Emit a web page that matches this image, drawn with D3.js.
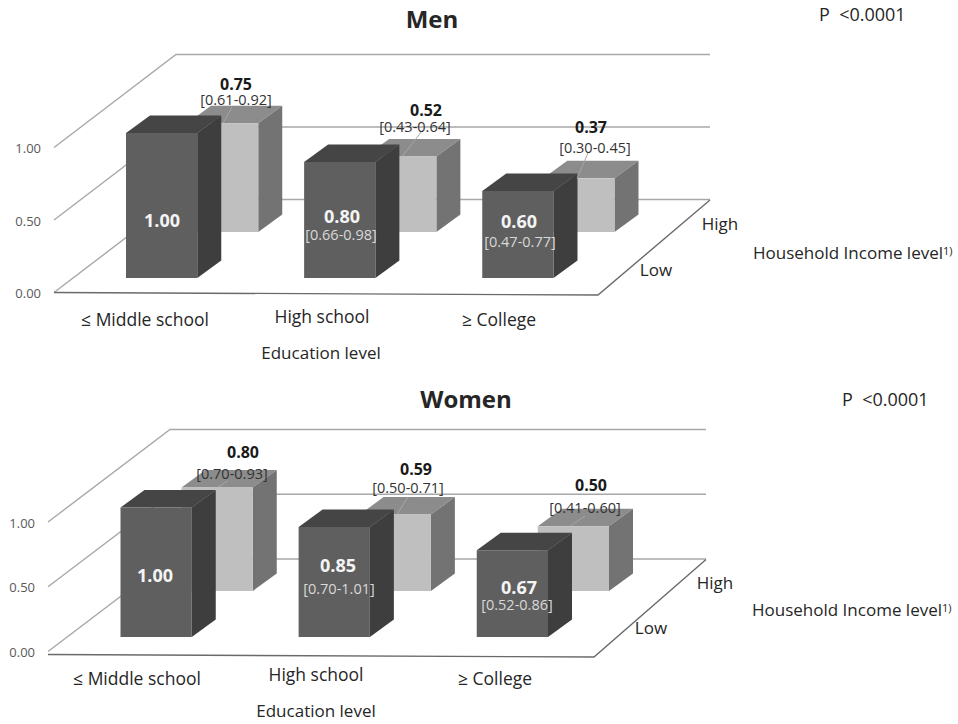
<!DOCTYPE html>
<html>
<head>
<meta charset="utf-8">
<script src="https://cdnjs.cloudflare.com/ajax/libs/d3/7.8.5/d3.min.js"></script>
<style>
  html, body { margin: 0; padding: 0; background: #fff; }
  svg { display: block; }
  text { font-family: "Open Sans", "Noto Sans", sans-serif; }
</style>
</head>
<body>
<svg id="chart" width="958" height="724"></svg>
<script>
// Adjusted odds ratios by education and household income
const educationLevels = ["≤ Middle school", "High school", "≥ College"];
const incomeLevels = ["Low", "High"];
const tickValues = [0, 0.5, 1];

const menLow = [1.00, 0.80, 0.60];
const menHigh = [0.75, 0.52, 0.37];
const menLowCI = [null, "[0.66-0.98]", "[0.47-0.77]"];
const menHighCI = ["[0.61-0.92]", "[0.43-0.64]", "[0.30-0.45]"];

const womenLow = [1.00, 0.85, 0.67];
const womenHigh = [0.80, 0.59, 0.50];
const womenLowCI = [null, "[0.70-1.01]", "[0.52-0.86]"];
const womenHighCI = ["[0.70-0.93]", "[0.50-0.71]", "[0.41-0.60]"];

const colors = {
  Low: { front: "#5f5f5f", top: "#454545", side: "#3e3e3e" },
  High: { front: "#bfbfbf", top: "#8c8c8c", side: "#737373" }
};

// Placement of each panel and its hand-set annotations
const panels = [
  {
    title: "Men", titleX: 432, titleY: 20, pText: "P  <0.0001", pX: 819, pY: 15,
    low: menLow, high: menHigh, lowCI: menLowCI, highCI: menHighCI,
    floorLeft: 54, floorRight: 598, floorFrontY: 293, floorFrontYRight: 295,
    wallBottom: 292.5, backY: 199.5, unit: 145, barStart: 126, barBase: 278,
    tickX: 41,
    catLabels: [[145, 320], [322, 317], [499, 320]], eduLabel: [321, 353],
    highLabel: [720, 224], lowLabel: [656, 270], incomeLabel: [753, 253],
    lowValuePos: [[162, 221], [342, 217], [519, 222]],
    lowCIPos: [null, [341, 235], [520, 242]],
    highValuePos: [[236, 84], [426, 110], [591, 127]],
    highCIPos: [[236, 100], [415, 127], [595, 148]],
    leaders: [[232, 107, 223], [422, 131, 402], [588, 153, 577]]
  },
  {
    title: "Women", titleX: 466, titleY: 400, pText: "P  <0.0001", pX: 842, pY: 400,
    low: womenLow, high: womenHigh, lowCI: womenLowCI, highCI: womenHighCI,
    floorLeft: 48, floorRight: 594, floorFrontY: 655, floorFrontYRight: 657,
    wallBottom: 651.5, backY: 559, unit: 129.5, barStart: 120.5, barBase: 637,
    tickX: 35,
    catLabels: [[137, 679], [316, 675], [495, 679]], eduLabel: [316, 711],
    highLabel: [715, 583], lowLabel: [651, 628], incomeLabel: [752, 610],
    lowValuePos: [[155, 576], [338, 566], [519, 588]],
    lowCIPos: [null, [339, 589], [517, 605]],
    highValuePos: [[243, 452], [416, 469], [591, 485]],
    highCIPos: [[232, 474], [408, 488], [585, 508]],
    leaders: [[228, 481, 217], [408, 497, 397], [585, 516, 570]]
  }
];

const svg = d3.select("#chart");
const textColor = "#262626";
const gridColor = "#a8a8a8";

// Depth axis: how far the floor recedes up and to the right
const wallDepthX = 122, wallDepthY = 93;
const rowShiftX = d3.scalePoint().domain(incomeLevels).range([0, 61]);
const rowShiftY = d3.scalePoint().domain(incomeLevels).range([0, -46]);
const barDepthX = 24, barDepthY = 17.5;

function label(g, str, x, y, size, weight, fill, anchor) {
  return g.append("text")
    .attr("x", x).attr("y", y)
    .attr("dy", "0.35em")
    .attr("text-anchor", anchor || "middle")
    .attr("font-size", size)
    .attr("font-weight", weight || 400)
    .attr("fill", fill || textColor)
    .text(str);
}

panels.forEach(p => {
  const g = svg.append("g");

  const x = d3.scaleBand()
    .domain(educationLevels)
    .range([p.barStart, p.barStart + 427.5])
    .paddingInner(0.6);

  // Height above a bar's own base
  const h = d3.scaleLinear().domain([0, 1]).range([0, p.unit]);
  // Height on the front edge of the left wall, which the axis reads from
  const wallY = d3.scaleLinear().domain([0, 1]).range([p.wallBottom, p.wallBottom - p.unit]);

  // Gridlines run along the left wall, then across the back wall
  const backRight = p.floorRight + 112;
  tickValues.forEach(t => {
    const offset = h(t);
    const yFront = wallY(t);
    const yBack = p.backY - offset;
    g.append("polyline")
      .attr("points", [[p.floorLeft, yFront], [p.floorLeft + wallDepthX, yBack], [backRight, yBack]].join(" "))
      .attr("fill", "none").attr("stroke", gridColor).attr("stroke-width", 1.4);
  });

  // Floor outline: front and right edges
  g.append("polyline")
    .attr("points", [[p.floorLeft, p.floorFrontY - 0.5], [p.floorRight, p.floorFrontYRight], [backRight, p.backY + 0.5]].join(" "))
    .attr("fill", "none").attr("stroke", "#6a6a6a").attr("stroke-width", 1.4);

  // Value axis, labels only
  const axis = g.append("g")
    .attr("transform", `translate(${p.tickX},1)`)
    .call(d3.axisLeft(wallY).tickValues(tickValues).tickFormat(d3.format(".2f")).tickSize(0).tickPadding(0));
  axis.select(".domain").remove();
  axis.selectAll("text").attr("font-size", 13).attr("fill", "#595959")
    .style("font-family", '"Open Sans", sans-serif');

  // Back row first so the front row overlaps it
  const rows = [["High", p.high], ["Low", p.low]];
  rows.forEach(([level, values]) => {
    const c = colors[level];
    const w = x.bandwidth();
    const bars = g.append("g").selectAll("g")
      .data(educationLevels.map((e, i) => ({ e, v: values[i] })))
      .join("g");
    const base = p.barBase + rowShiftY(level);
    const left = d => x(d.e) + rowShiftX(level);
    const top = d => base - h(d.v);

    bars.append("polygon").attr("fill", c.top).attr("points", d => [
      [left(d), top(d)], [left(d) + barDepthX, top(d) - barDepthY],
      [left(d) + w + barDepthX, top(d) - barDepthY], [left(d) + w, top(d)]
    ].join(" "));
    bars.append("polygon").attr("fill", c.side).attr("points", d => [
      [left(d) + w, top(d)], [left(d) + w + barDepthX, top(d) - barDepthY],
      [left(d) + w + barDepthX, base - barDepthY], [left(d) + w, base]
    ].join(" "));
    bars.append("rect").attr("fill", c.front)
      .attr("x", left).attr("y", top)
      .attr("width", w).attr("height", d => h(d.v));
  });

  // Leader lines tying the back-row labels to their bars
  p.leaders.forEach((l, i) => {
    const endY = p.barBase + rowShiftY("High") - h(p.high[i]);
    g.append("line").attr("x1", l[0]).attr("y1", l[1]).attr("x2", l[2]).attr("y2", endY)
      .attr("stroke", "#a6a6a6").attr("stroke-width", 1);
  });

  // Value and confidence interval labels
  p.low.forEach((v, i) => {
    const [vx, vy] = p.lowValuePos[i];
    label(g, v.toFixed(2), vx, vy, 18, 700, "#f4f4f4");
    if (p.lowCI[i]) {
      const [cx, cy] = p.lowCIPos[i];
      label(g, p.lowCI[i], cx, cy, 14.5, 400, "#d9d9d9");
    }
  });
  p.high.forEach((v, i) => {
    const [vx, vy] = p.highValuePos[i];
    label(g, v.toFixed(2), vx, vy, 16, 700, "#1a1a1a");
    const [cx, cy] = p.highCIPos[i];
    label(g, p.highCI[i], cx, cy, 14.5, 400, "#333");
  });

  // Titles and axis captions
  label(g, p.title, p.titleX, p.titleY, 24, 700, "#262626");
  label(g, p.pText, p.pX, p.pY, 18, 400, textColor, "start").style("white-space", "pre");

  educationLevels.forEach((e, i) => {
    label(g, e, p.catLabels[i][0], p.catLabels[i][1], 17.5);
  });
  label(g, "Education level", p.eduLabel[0], p.eduLabel[1], 17);
  label(g, incomeLevels[1], p.highLabel[0], p.highLabel[1], 17);
  label(g, incomeLevels[0], p.lowLabel[0], p.lowLabel[1], 17);

  const inc = label(g, "Household Income level", p.incomeLabel[0], p.incomeLabel[1], 17, 400, textColor, "start");
  inc.append("tspan").attr("font-size", 11).attr("dy", "-0.35em").text("1)");
});
</script>
</body>
</html>
